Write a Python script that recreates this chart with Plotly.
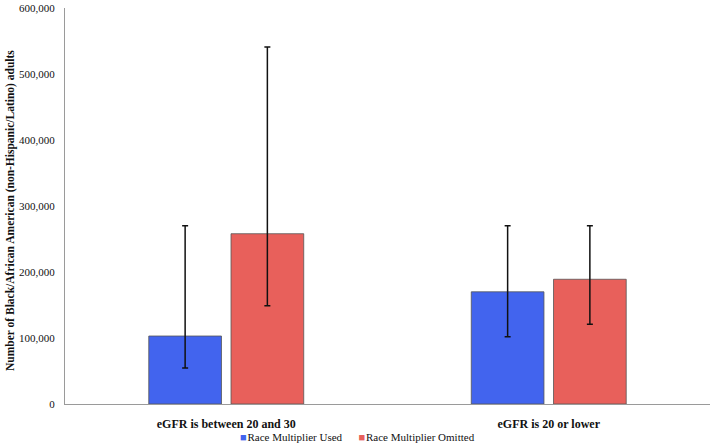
import plotly.graph_objects as go

categories = ["eGFR is between 20 and 30", "eGFR is 20 or lower"]
series_names = ["Race Multiplier Used", "Race Multiplier Omitted"]
used_values = [103000, 170000]
used_upper = [270000, 270000]
used_lower = [54500, 102000]
omitted_values = [258000, 189000]
omitted_upper = [541000, 270000]
omitted_lower = [149000, 121000]
y_ticks = [0, 100000, 200000, 300000, 400000, 500000, 600000]

SERIF = "Liberation Serif, Times New Roman, serif"
colors = ["#4264EE", "#E8605B"]

fig = go.Figure()
for name, vals, up, lo, col in [
    (series_names[0], used_values, used_upper, used_lower, colors[0]),
    (series_names[1], omitted_values, omitted_upper, omitted_lower, colors[1]),
]:
    fig.add_trace(go.Bar(
        x=categories, y=vals, name=name,
        marker=dict(color=col, line=dict(color="#555555", width=0.8)),
        error_y=dict(
            type="data", symmetric=False,
            array=[u - v for u, v in zip(up, vals)],
            arrayminus=[v - l for v, l in zip(vals, lo)],
            color="#111111", thickness=1.5, width=3,
        ),
    ))

legend_text = "&nbsp;&nbsp;&nbsp;&nbsp;&nbsp;&nbsp;".join(
    f'<span style="color:{c};font-size:11px">■</span><span style="font-size:3px">&nbsp;</span>{n}'
    for n, c in zip(series_names, colors)
)
fig.add_annotation(
    text=legend_text, xref="paper", yref="paper", x=(238 - 65) / 645, y=-33 / 396,
    xanchor="left", yanchor="middle", showarrow=False,
    font=dict(family=SERIF, size=11, color="#111111"),
)
fig.add_annotation(
    text="<b>Number of Black/African American (non-Hispanic/Latino) adults</b>",
    xref="paper", yref="paper", x=(10 - 65) / 645, y=(404 - 211) / 396, textangle=-90,
    xanchor="center", yanchor="middle", showarrow=False,
    font=dict(family=SERIF, size=11.5, color="#111111"),
)

fig.update_layout(
    width=714, height=445,
    margin=dict(l=65, r=4, t=8, b=41, autoexpand=False),
    paper_bgcolor="white", plot_bgcolor="white",
    barmode="group", bargap=0.49, bargroupgap=0.116,
    font=dict(family=SERIF, size=11, color="#111111"),
    showlegend=False,
)
fig.update_xaxes(
    showline=True, linecolor="#9a9a9a", linewidth=1.2, ticks="",
    tickfont=dict(family=SERIF, size=12, color="#111111", weight="bold"),
    showgrid=False, zeroline=False, automargin=False, ticklabelstandoff=8,
)
fig.update_yaxes(
    range=[0, 600000], tickvals=y_ticks,
    ticktext=[f"{v:,}" for v in y_ticks],
    showline=True, linecolor="#9a9a9a", linewidth=1.2, ticks="",
    showgrid=False, zeroline=False, ticklabelstandoff=7, automargin=False,
    tickfont=dict(family=SERIF, size=11, color="#111111"),
)

fig.write_html("out.html", config={"displayModeBar": False},
               post_script="document.body.style.margin='0';document.body.style.overflow='hidden';")
